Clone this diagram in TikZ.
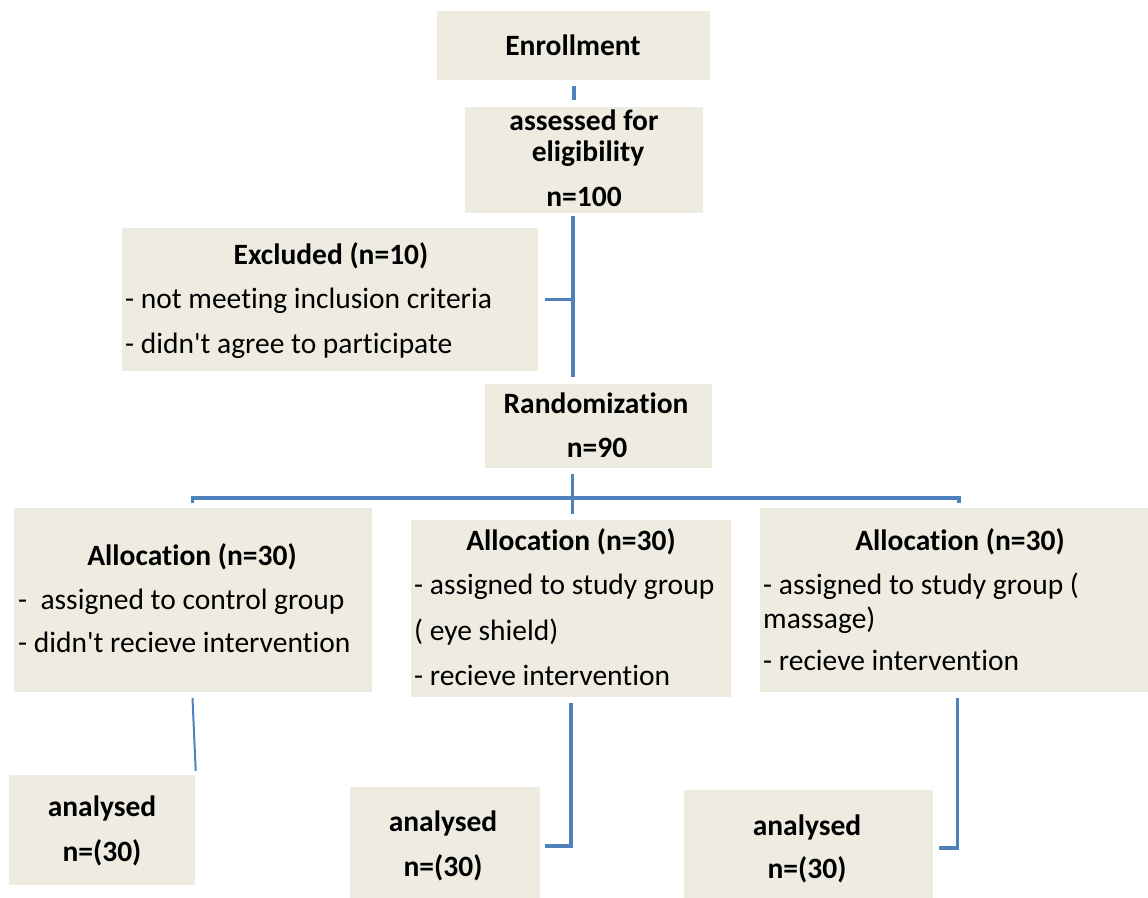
\documentclass[tikz,border=0pt]{standalone}
\usepackage{fontspec}
\setmainfont{Carlito}[Ligatures={TeXOff,CommonOff}]
\definecolor{boxfill}{HTML}{EEECE1}
\definecolor{linecol}{HTML}{4F81BD}
\begin{document}
\begin{tikzpicture}[x=1pt,y=-1pt,
  box/.style={fill=boxfill,draw=none,inner sep=0pt,rectangle},
  txt/.style={inner sep=0pt,font=\fontsize{29.5}{35}\selectfont},
  btxt/.style={inner sep=0pt,font=\fontsize{29.5}{35}\selectfont\bfseries},
  conn/.style={draw=linecol,line width=3.5pt},
  thinconn/.style={draw=linecol,line width=2pt}]
\useasboundingbox (0,0) rectangle (1148,897);
% boxes
\node[box,minimum width=273pt,minimum height=69pt] (enr) at (573.5,45.5) {};
\node[box,minimum width=238pt,minimum height=106pt] (ass) at (584,160) {};
\node[box,minimum width=416pt,minimum height=143pt] (exc) at (330,299.5) {};
\node[box,minimum width=227pt,minimum height=84pt] (rnd) at (598.5,426) {};
\node[box,minimum width=358pt,minimum height=184pt] (al1) at (192.5,600) {};
\node[box,minimum width=320pt,minimum height=177pt] (al2) at (571,608.5) {};
\node[box,minimum width=388pt,minimum height=184pt] (al3) at (954,600) {};
\node[box,minimum width=186pt,minimum height=110pt] (an1) at (102,830) {};
\node[box,minimum width=190pt,minimum height=112pt] (an2) at (445,843) {};
\node[box,minimum width=249pt,minimum height=108pt] (an3) at (808.5,844) {};
% texts
\begin{scope}[shift={(0,7.5)}]
\node[btxt,anchor=mid] (t1) at (573,46) {Enrollment};
\node[btxt,anchor=mid] (t2) at (584,121) {assessed for};
\node[btxt,anchor=mid] (t3) at (588,152) {eligibility};
\node[btxt,anchor=mid] (t4) at (584,197) {n=100};
\node[btxt,anchor=mid] (t5) at (331,255) {Excluded (n=10)};
\node[txt,anchor=mid west] (t6) at (125,299) {- not meeting inclusion criteria};
\node[txt,anchor=mid west] (t7) at (125,344) {- didn't agree to participate};
\node[btxt,anchor=mid] (t8) at (596,404) {Randomization};
\node[btxt,anchor=mid] (t9) at (597,448) {n=90};
\node[btxt,anchor=mid] (t10) at (192,556) {Allocation (n=30)};
\node[txt,anchor=mid west] (t11) at (18,600) {-\ \ assigned to control group};
\node[txt,anchor=mid west] (t12) at (18,643) {- didn't recieve intervention};
\node[btxt,anchor=mid] (t13) at (571,541) {Allocation (n=30)};
\node[txt,anchor=mid west] (t14) at (414,585) {- assigned to study group};
\node[txt,anchor=mid west] (t15) at (414,631) {( eye shield)};
\node[txt,anchor=mid west] (t16) at (414,676) {- recieve intervention};
\node[btxt,anchor=mid] (t17) at (960,541) {Allocation (n=30)};
\node[txt,anchor=mid west] (t18) at (763,585) {- assigned to study group (};
\node[txt,anchor=mid west] (t19) at (763,619) {massage)};
\node[txt,anchor=mid west] (t20) at (763,661) {- recieve intervention};
\node[btxt,anchor=mid] (t21) at (102,807) {analysed};
\node[btxt,anchor=mid] (t22) at (102,852) {n=(30)};
\node[btxt,anchor=mid] (t23) at (443,822) {analysed};
\node[btxt,anchor=mid] (t24) at (443,867) {n=(30)};
\node[btxt,anchor=mid] (t25) at (807,826) {analysed};
\node[btxt,anchor=mid] (t26) at (807,869) {n=(30)};
\end{scope}
% connectors
\coordinate (trunk) at (573,0);
\draw[conn] ([shift={(0.5,6)}]enr.south) -- ([shift={(0.5,20)}]enr.south);
\draw[conn] ([shift={(-11,3)}]ass.south) -- ([shift={(-25.5,-7)}]rnd.north);
\draw[conn] ([shift={(7,0)}]exc.east) -- (exc.east -| trunk);
\draw[conn] ([shift={(-26,6)}]rnd.south) -- ([shift={(-26,46)}]rnd.south);
\draw[conn] ([shift={(0,-5)}]al1.north) -- ([shift={(0,-10)}]al1.north)
  -- ([shift={(5,-10)}]al3.north) -- ([shift={(5,-5)}]al3.north);
\draw[thinconn] ([shift={(0,6)}]al1.south) -- ([shift={(0.5,-4)}]an1.north east);
\draw[conn] ([shift={(0,6)}]al2.south) |- ([shift={(5,3)}]an2.east);
\draw[conn] ([shift={(3.5,6)}]al3.south) |- ([shift={(6,4)}]an3.east);
\end{tikzpicture}
\end{document}
